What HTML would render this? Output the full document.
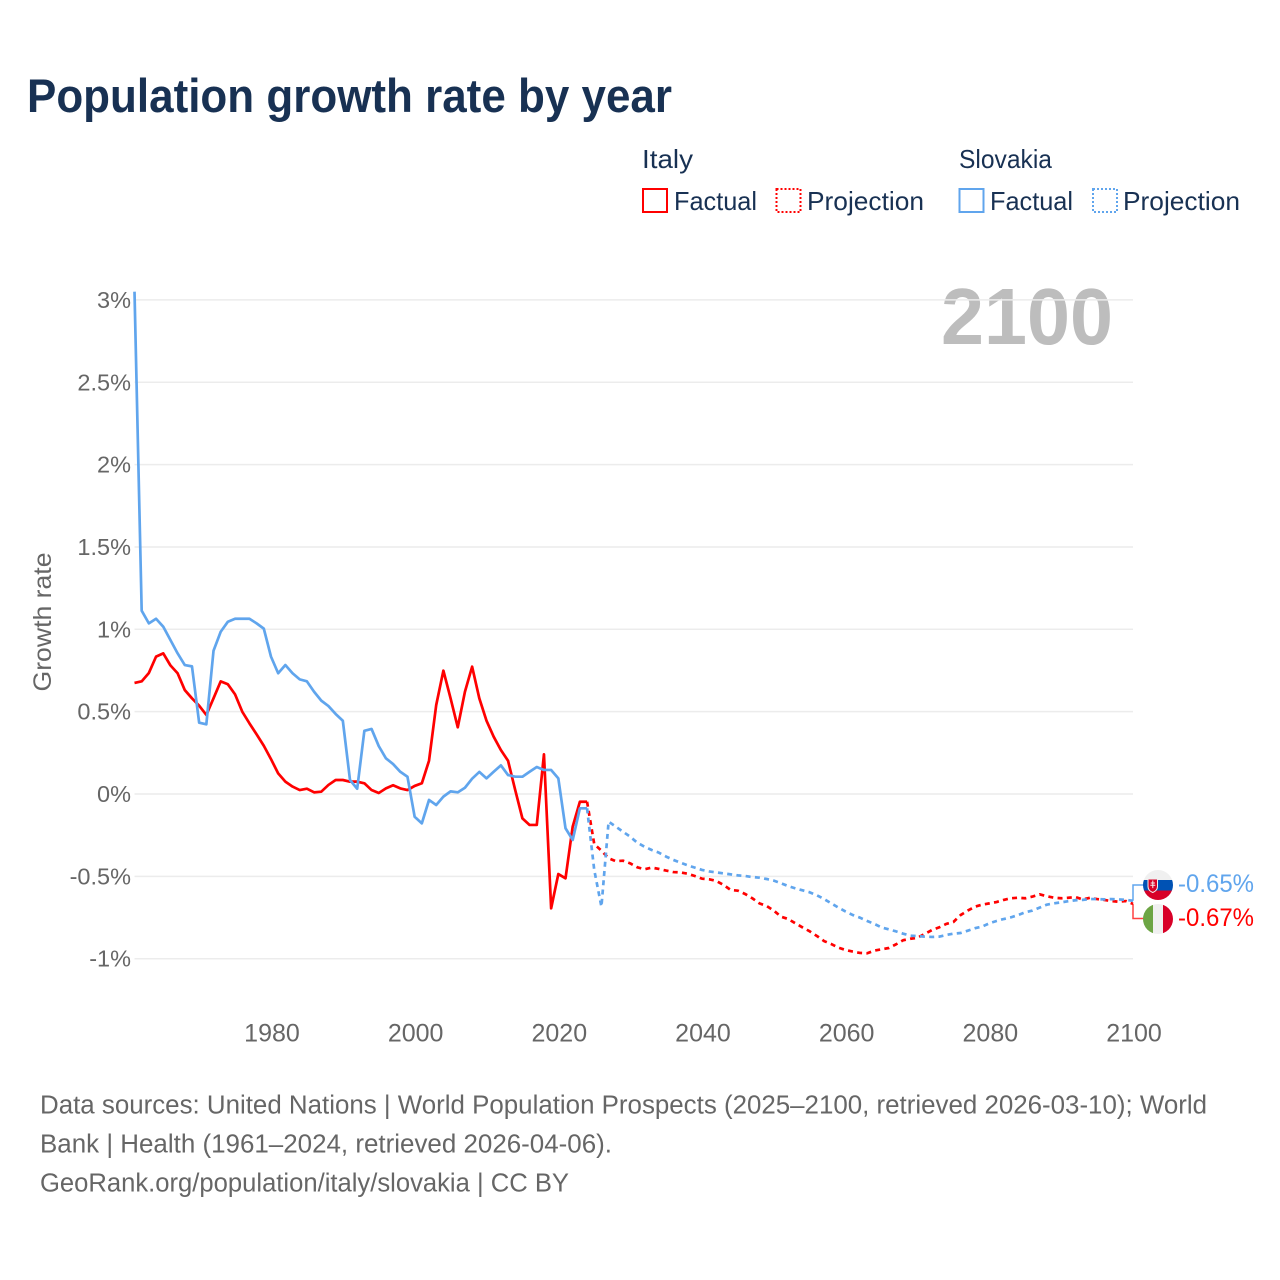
<!DOCTYPE html>
<html lang="en">
<head>
<meta charset="utf-8">
<title>Population growth rate by year</title>
<style>
html,body{margin:0;padding:0;background:#fff;}
svg{display:block;font-family:"Liberation Sans",sans-serif;}
</style>
</head>
<body>
<svg id="chart" xmlns="http://www.w3.org/2000/svg" width="1280" height="1280" viewBox="0 0 1280 1280">
  <rect x="0" y="0" width="1280" height="1280" fill="#ffffff"/>
  <text x="27" y="112" font-size="47" font-weight="700" fill="#183153" textLength="645" lengthAdjust="spacingAndGlyphs">Population growth rate by year</text>

  <g font-size="26" fill="#183153">
    <text x="642" y="168" textLength="51" lengthAdjust="spacingAndGlyphs">Italy</text>
    <text x="959" y="168" textLength="93" lengthAdjust="spacingAndGlyphs">Slovakia</text>
    <rect x="643" y="189" width="24" height="23" fill="none" stroke="#ff0000" stroke-width="2"/>
    <text x="674" y="210" textLength="83" lengthAdjust="spacingAndGlyphs">Factual</text>
    <rect x="776.5" y="189" width="24" height="23" fill="none" stroke="#ff0000" stroke-width="2" stroke-dasharray="2 2"/>
    <text x="807" y="210" textLength="117" lengthAdjust="spacingAndGlyphs">Projection</text>
    <rect x="959.5" y="189" width="24" height="23" fill="none" stroke="#60a5ed" stroke-width="2"/>
    <text x="990" y="210" textLength="83" lengthAdjust="spacingAndGlyphs">Factual</text>
    <rect x="1093" y="189" width="24" height="23" fill="none" stroke="#60a5ed" stroke-width="2" stroke-dasharray="2 2"/>
    <text x="1123" y="210" textLength="117" lengthAdjust="spacingAndGlyphs">Projection</text>
  </g>

  <text x="1113" y="344" font-size="80" font-weight="700" fill="#bdbdbd" text-anchor="end" textLength="172" lengthAdjust="spacingAndGlyphs">2100</text>
  <text transform="translate(51,622) rotate(-90)" font-size="25" fill="#666666" text-anchor="middle" textLength="139" lengthAdjust="spacingAndGlyphs">Growth rate</text>

  <g id="grid"></g>
  <g id="yaxis"></g>
  <g id="xaxis"></g>
  <g id="series"></g>
  <g id="ends"></g>

  <defs>
    <clipPath id="flag-clip-sk"><circle cx="1158" cy="885" r="15"/></clipPath>
    <clipPath id="flag-clip-it"><circle cx="1158" cy="919" r="15"/></clipPath>
  </defs>

  <g clip-path="url(#flag-clip-sk)">
    <rect x="1143" y="870" width="30" height="10" fill="#f0f0f0"/>
    <rect x="1143" y="880" width="30" height="10.5" fill="#0052b4"/>
    <rect x="1143" y="890.5" width="30" height="10" fill="#d80027"/>
    <path d="M1148 879h9.5v7.5q0 4-4.75 6q-4.75-2-4.75-6z" fill="#d80027" stroke="#f0f0f0" stroke-width="1"/>
    <path d="M1152.3 880.5h1v2h1.6v1h-1.6v1.2h2v1h-2v2.4h-1v-2.4h-2v-1h2v-1.2h-1.6v-1h1.6z" fill="#f0f0f0"/>
  </g>
  <g clip-path="url(#flag-clip-it)">
    <rect x="1143" y="904" width="10" height="30" fill="#6da544"/>
    <rect x="1153" y="904" width="10" height="30" fill="#f0f0f0"/>
    <rect x="1163" y="904" width="10" height="30" fill="#d80027"/>
  </g>

  <g font-size="25.5" fill="#666666">
    <text x="40" y="1113.5" textLength="1167" lengthAdjust="spacingAndGlyphs">Data sources: United Nations | World Population Prospects (2025–2100, retrieved 2026-03-10); World</text>
    <text x="40" y="1152.5" textLength="572" lengthAdjust="spacingAndGlyphs">Bank | Health (1961–2024, retrieved 2026-04-06).</text>
    <text x="40" y="1191.5" textLength="529" lengthAdjust="spacingAndGlyphs">GeoRank.org/population/italy/slovakia | CC BY</text>
  </g>
</svg>

<script>
const factualStartYear = 1961;
const projectionStartYear = 2024;
const xTickYears = [1980, 2000, 2020, 2040, 2060, 2080, 2100];
const yTickValues = [3, 2.5, 2, 1.5, 1, 0.5, 0, -0.5, -1];

const italyFactual = [0.674,0.684,0.735,0.834,0.854,0.781,0.733,0.631,0.581,0.536,0.48,0.581,0.684,0.666,0.605,0.5,0.429,0.362,0.293,0.212,0.125,0.075,0.045,0.024,0.032,0.01,0.014,0.055,0.085,0.085,0.075,0.075,0.065,0.024,0.006,0.034,0.053,0.034,0.024,0.049,0.065,0.202,0.54,0.749,0.581,0.405,0.621,0.773,0.581,0.445,0.348,0.267,0.202,0.024,-0.148,-0.188,-0.188,0.241,-0.694,-0.486,-0.512,-0.198,-0.047,-0.047];
const slovakiaFactual = [3.05,1.113,1.036,1.064,1.016,0.935,0.854,0.783,0.775,0.433,0.423,0.87,0.985,1.046,1.064,1.064,1.064,1.036,1.004,0.834,0.733,0.783,0.733,0.696,0.684,0.621,0.567,0.534,0.486,0.445,0.085,0.032,0.384,0.395,0.291,0.217,0.182,0.135,0.105,-0.138,-0.178,-0.036,-0.067,-0.016,0.016,0.01,0.038,0.093,0.134,0.095,0.135,0.174,0.115,0.105,0.105,0.135,0.164,0.146,0.146,0.095,-0.208,-0.279,-0.087,-0.087];
const italyProjection = [-0.047,-0.304,-0.344,-0.39,-0.408,-0.405,-0.421,-0.445,-0.457,-0.447,-0.455,-0.465,-0.474,-0.476,-0.484,-0.498,-0.514,-0.518,-0.528,-0.552,-0.583,-0.587,-0.607,-0.633,-0.664,-0.68,-0.708,-0.745,-0.759,-0.785,-0.81,-0.834,-0.862,-0.893,-0.911,-0.933,-0.947,-0.957,-0.965,-0.967,-0.951,-0.943,-0.935,-0.913,-0.888,-0.879,-0.873,-0.85,-0.826,-0.81,-0.789,-0.777,-0.735,-0.708,-0.684,-0.672,-0.664,-0.656,-0.643,-0.633,-0.63,-0.633,-0.623,-0.609,-0.621,-0.63,-0.633,-0.63,-0.626,-0.64,-0.63,-0.638,-0.643,-0.65,-0.654,-0.65,-0.667];
const slovakiaProjection = [-0.087,-0.461,-0.684,-0.168,-0.198,-0.229,-0.259,-0.296,-0.32,-0.34,-0.356,-0.38,-0.4,-0.417,-0.433,-0.447,-0.461,-0.47,-0.476,-0.482,-0.488,-0.494,-0.498,-0.504,-0.508,-0.516,-0.526,-0.542,-0.559,-0.573,-0.585,-0.597,-0.615,-0.638,-0.664,-0.69,-0.714,-0.735,-0.751,-0.771,-0.789,-0.81,-0.822,-0.834,-0.848,-0.86,-0.863,-0.866,-0.868,-0.866,-0.856,-0.848,-0.844,-0.83,-0.815,-0.805,-0.785,-0.771,-0.759,-0.749,-0.735,-0.718,-0.708,-0.69,-0.672,-0.664,-0.658,-0.651,-0.645,-0.643,-0.638,-0.638,-0.64,-0.638,-0.64,-0.643,-0.648];

const SVGNS = 'http://www.w3.org/2000/svg';
const RED = '#ff0000';
const BLUE = '#60a5ed';

function xScale(year) { return 134.5 + (year - 1961) * (1133 - 134.5) / (2100 - 1961); }
function yScale(v) { return 794 - v * 164.7; }

function make(tag, parent) {
  const el = document.createElementNS(SVGNS, tag);
  parent.appendChild(el);
  return el;
}
function pointsFor(values, startYear) {
  return values.map(function (v, i) {
    return xScale(startYear + i).toFixed(2) + ',' + yScale(v).toFixed(2);
  }).join(' ');
}
function drawLine(parent, values, startYear, color, dashed) {
  const line = make('polyline', parent);
  line.setAttribute('points', pointsFor(values, startYear));
  line.setAttribute('fill', 'none');
  line.setAttribute('stroke', color);
  line.setAttribute('stroke-width', '2.7');
  line.setAttribute('stroke-linejoin', 'round');
  if (dashed) line.setAttribute('stroke-dasharray', '5 4.3');
  return line;
}

const gridLayer = document.getElementById('grid');
const yLayer = document.getElementById('yaxis');
const xLayer = document.getElementById('xaxis');
const seriesLayer = document.getElementById('series');
const endLayer = document.getElementById('ends');

yTickValues.forEach(function (v) {
  const rule = make('line', gridLayer);
  
  
  rule.setAttribute('x1', xScale(1961));
  rule.setAttribute('x2', xScale(2100));
  rule.setAttribute('y1', yScale(v));
  rule.setAttribute('y2', yScale(v));
  rule.setAttribute('stroke', '#ececec');
  rule.setAttribute('stroke-width', '1.5');

  const label = make('text', yLayer);
  
  
  label.setAttribute('x', '131');
  label.setAttribute('y', yScale(v) + 8);
  label.setAttribute('font-size', '23.5');
  label.setAttribute('fill', '#666666');
  label.setAttribute('text-anchor', 'end');
  label.textContent = v + '%';
});

xTickYears.forEach(function (year) {
  const label = make('text', xLayer);
  
  
  label.setAttribute('x', xScale(year) + 1);
  label.setAttribute('y', '1041.5');
  label.setAttribute('font-size', '25');
  label.setAttribute('fill', '#666666');
  label.setAttribute('text-anchor', 'middle');
  label.textContent = String(year);
});

const lineItalyFactual = drawLine(seriesLayer, italyFactual, factualStartYear, RED, false);



const lineItalyProjection = drawLine(seriesLayer, italyProjection, projectionStartYear, RED, true);



const lineSlovakiaFactual = drawLine(seriesLayer, slovakiaFactual, factualStartYear, BLUE, false);



const lineSlovakiaProjection = drawLine(seriesLayer, slovakiaProjection, projectionStartYear, BLUE, true);



const lastSlovakia = slovakiaProjection[slovakiaProjection.length - 1];
const lastItaly = italyProjection[italyProjection.length - 1];
const endX = xScale(2100);

const connectorSlovakia = make('polyline', endLayer);


connectorSlovakia.setAttribute('points', endX + ',' + yScale(lastSlovakia) + ' ' + endX + ',885 1144,885');
connectorSlovakia.setAttribute('fill', 'none');
connectorSlovakia.setAttribute('stroke', BLUE);
connectorSlovakia.setAttribute('stroke-width', '1.5');

const connectorItaly = make('polyline', endLayer);


connectorItaly.setAttribute('points', endX + ',' + yScale(lastItaly) + ' ' + endX + ',918.5 1144,918.5');
connectorItaly.setAttribute('fill', 'none');
connectorItaly.setAttribute('stroke', RED);
connectorItaly.setAttribute('stroke-opacity', '0.75');
connectorItaly.setAttribute('stroke-width', '1.5');

const labelSlovakia = make('text', endLayer);


labelSlovakia.setAttribute('x', '1178');
labelSlovakia.setAttribute('y', '892');
labelSlovakia.setAttribute('font-size', '25');
labelSlovakia.setAttribute('fill', BLUE);
labelSlovakia.setAttribute('textLength', '76');
labelSlovakia.setAttribute('lengthAdjust', 'spacingAndGlyphs');
labelSlovakia.textContent = lastSlovakia.toFixed(2) + '%';

const labelItaly = make('text', endLayer);


labelItaly.setAttribute('x', '1178');
labelItaly.setAttribute('y', '926');
labelItaly.setAttribute('font-size', '25');
labelItaly.setAttribute('fill', RED);
labelItaly.setAttribute('textLength', '76');
labelItaly.setAttribute('lengthAdjust', 'spacingAndGlyphs');
labelItaly.textContent = lastItaly.toFixed(2) + '%';
</script>
</body>
</html>
